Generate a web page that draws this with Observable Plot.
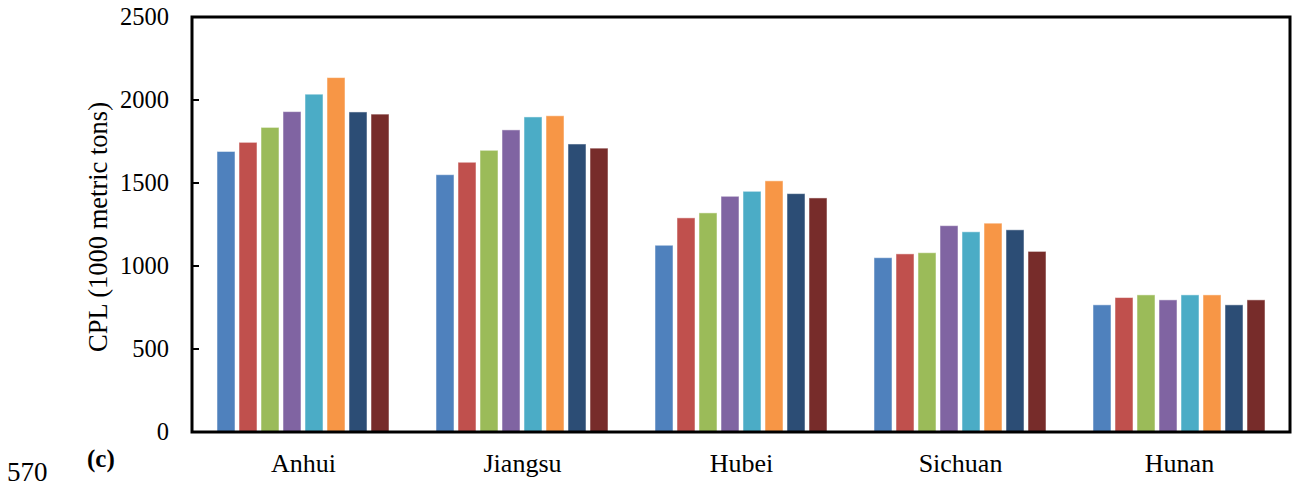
<!DOCTYPE html>
<html>
<head>
<meta charset="utf-8">
<script src="https://cdn.jsdelivr.net/npm/d3@7"></script>
<script src="https://cdn.jsdelivr.net/npm/@observablehq/plot@0.6"></script>
<style>
  html, body { margin: 0; padding: 0; background: #fff; }
  #wrap { position: relative; width: 1296px; height: 486px; font-family: "Liberation Serif", "Times New Roman", serif; color: #000; }
  #num { position: absolute; left: 7px; top: 459px; font-size: 27px; line-height: 1; }
  #tag { position: absolute; left: 87px; top: 446px; font-size: 25px; font-weight: bold; line-height: 1; }
  #ylab { position: absolute; left: 98px; top: 227px; font-size: 26.5px; line-height: 1; white-space: nowrap;
          transform: translate(-50%, -50%) rotate(-90deg); }
</style>
</head>
<body>
<div id="wrap">
  <div id="chart"></div>
  <div id="num">570</div>
  <div id="tag">(c)</div>
  <div id="ylab"></div>
</div>
<script>
const regions = ["Anhui", "Jiangsu", "Hubei", "Sichuan", "Hunan"];
const series = ["S1", "S2", "S3", "S4", "S5", "S6", "S7", "S8"];
const colors = ["#4F81BD", "#C0504D", "#9BBB59", "#8064A2", "#4BACC6", "#F79646", "#2C4D75", "#772C2A"];
const anhui   = [1690, 1745, 1835, 1930, 2035, 2135, 1928, 1915];
const jiangsu = [1550, 1625, 1697, 1820, 1898, 1905, 1735, 1710];
const hubei   = [1125, 1290, 1320, 1420, 1450, 1513, 1436, 1410];
const sichuan = [1050, 1073, 1080, 1243, 1206, 1258, 1218, 1088];
const hunan   = [766, 810, 826, 796, 826, 826, 766, 796];
const yTicks = [0, 500, 1000, 1500, 2000, 2500];
const yLabel = "CPL (1000 metric tons)";

document.getElementById("ylab").textContent = yLabel;

const valuesByRegion = [anhui, jiangsu, hubei, sichuan, hunan];
const data = [];
regions.forEach((r, i) => series.forEach((s, j) => data.push({region: r, series: s, value: valuesByRegion[i][j]})));

const marginTop = 17, marginBottom = 54, marginLeft = 192, marginRight = 6;
const width = 1296, height = 486;
const fxPadOuter = 0.07, fxPadInner = 0.141;
// the y axis is drawn at the left edge of the first facet, which sits inside the frame
const fxStep = (width - marginLeft - marginRight) / (regions.length - fxPadInner + 2 * fxPadOuter);
const facetOffset = fxStep * fxPadOuter;

const plot = Plot.plot({
  width, height, marginTop, marginBottom, marginLeft, marginRight,
  style: {fontFamily: "'Liberation Serif', 'Times New Roman', serif", fontSize: "24px", color: "#000", background: "#fff"},
  fx: {domain: regions, paddingInner: fxPadInner, paddingOuter: fxPadOuter, label: null},
  x: {domain: series, padding: 0.2, axis: null},
  y: {domain: [0, 2500], label: null},
  color: {domain: series, range: colors},
  marks: [
    Plot.barY(data, {fx: "region", x: "series", y: "value", fill: "series", stroke: "#fff", strokeOpacity: 0.5, strokeWidth: 1}),
    Plot.axisY({ticks: yTicks, tickFormat: d => String(d), tickSize: 0, tickPadding: 25 + facetOffset, fontSize: 24.5, label: null}),
    Plot.axisFx({anchor: "bottom", tickSize: 0, tickPadding: 21, fontSize: 26, label: null})
  ]
});
document.getElementById("chart").appendChild(plot);

const svg = d3.select(plot);
const y = plot.scale("y");
// inward tick marks on the left side of the frame
svg.append("g").selectAll("line").data(yTicks).join("line")
  .attr("x1", marginLeft).attr("x2", marginLeft + 7)
  .attr("y1", d => y.apply(d)).attr("y2", d => y.apply(d))
  .attr("stroke", "#000").attr("stroke-width", 2);
// frame around the whole plotting area
svg.append("rect")
  .attr("x", marginLeft).attr("y", marginTop)
  .attr("width", width - marginLeft - marginRight)
  .attr("height", height - marginTop - marginBottom)
  .attr("fill", "none").attr("stroke", "#000").attr("stroke-width", 3);
</script>
</body>
</html>
